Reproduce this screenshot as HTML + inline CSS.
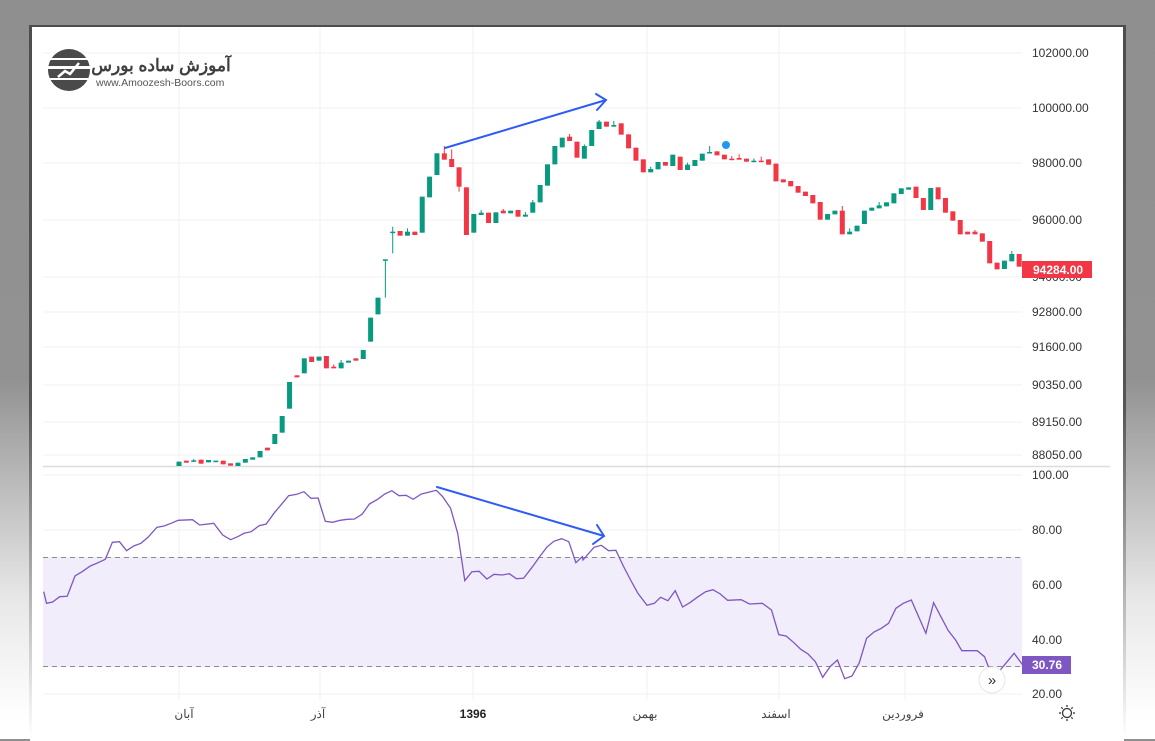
<!DOCTYPE html>
<html><head><meta charset="utf-8">
<style>
html,body{margin:0;padding:0;}
body{width:1155px;height:739px;overflow:hidden;position:relative;background:linear-gradient(to bottom,#8f8f8f 0,#929292 380px,#e8e8e8 600px,#fff 720px);font-family:"Liberation Sans","Noto Sans CJK SC",sans-serif;}
#panel{position:absolute;left:30px;top:25px;width:1094px;height:714px;background:#fff;border-top:2px solid #4d4d4d;}
#bl{position:absolute;left:29px;top:25px;width:3px;height:714px;background:linear-gradient(to bottom,#4d4d4d 0,#555 380px,#ddd 650px,#fff 714px);}
#br{position:absolute;left:1123px;top:25px;width:3px;height:714px;background:linear-gradient(to bottom,#4d4d4d 0,#555 380px,#ddd 650px,#fff 714px);}
svg{position:absolute;left:0;top:0;}
</style></head><body>
<div id="panel"></div><div id="bl"></div><div id="br"></div>
<svg id="s" width="1155" height="739" xmlns="http://www.w3.org/2000/svg" font-family="Liberation Sans, Noto Sans CJK SC, sans-serif">
<g stroke="#f2f2f2" stroke-width="1">
<line x1="43" x2="1022" y1="53" y2="53"/><line x1="43" x2="1022" y1="108" y2="108"/><line x1="43" x2="1022" y1="163" y2="163"/><line x1="43" x2="1022" y1="220" y2="220"/><line x1="43" x2="1022" y1="277" y2="277"/><line x1="43" x2="1022" y1="312" y2="312"/><line x1="43" x2="1022" y1="347" y2="347"/><line x1="43" x2="1022" y1="385" y2="385"/><line x1="43" x2="1022" y1="422" y2="422"/><line x1="43" x2="1022" y1="455" y2="455"/>
<line x1="43" x2="1022" y1="475" y2="475"/><line x1="43" x2="1022" y1="530" y2="530"/><line x1="43" x2="1022" y1="585" y2="585"/><line x1="43" x2="1022" y1="640" y2="640"/><line x1="43" x2="1022" y1="694" y2="694"/>
<line x1="179" x2="179" y1="27" y2="700"/><line x1="320" x2="320" y1="27" y2="700"/><line x1="473" x2="473" y1="27" y2="700"/><line x1="647" x2="647" y1="27" y2="700"/><line x1="779" x2="779" y1="27" y2="700"/><line x1="905" x2="905" y1="27" y2="700"/>
</g>
<line x1="43" x2="1110" y1="466.5" y2="466.5" stroke="#dcdcdc" stroke-width="1.5"/>
<rect x="43" y="557" width="979" height="110" fill="#f1edfa"/>
<line x1="43" x2="1022" y1="557.5" y2="557.5" stroke="#8a8a8a" stroke-dasharray="5,4"/>
<line x1="43" x2="1022" y1="666.5" y2="666.5" stroke="#8a8a8a" stroke-dasharray="5,4"/>
<g id="candles"></g>
<polyline id="rsi" fill="none" stroke="#7e57c2" stroke-width="1.3" points=""/>
<circle cx="726" cy="145" r="4" fill="#2196f3"/>
<g stroke="#2f5cf5" stroke-width="2" fill="none" stroke-linecap="round">
<line x1="445" y1="148" x2="606" y2="100"/><polyline points="596,94 606,100 597,110"/>
<line x1="437" y1="487" x2="604" y2="536"/><polyline points="597,525 604,536 593,544"/>
</g>
<g font-size="12" fill="#333">
<text x="1032" y="57">102000.00</text><text x="1032" y="112">100000.00</text><text x="1032" y="167">98000.00</text><text x="1032" y="224">96000.00</text><text x="1032" y="281">94000.00</text><text x="1032" y="316">92800.00</text><text x="1032" y="351">91600.00</text><text x="1032" y="389">90350.00</text><text x="1032" y="426">89150.00</text><text x="1032" y="459">88050.00</text>
<text x="1032" y="479">100.00</text><text x="1032" y="534">80.00</text><text x="1032" y="589">60.00</text><text x="1032" y="644">40.00</text><text x="1032" y="698">20.00</text>
</g>
<rect x="1022" y="261" width="70" height="17" fill="#f23645"/>
<text x="1033" y="274" font-size="12" font-weight="bold" fill="#fff">94284.00</text>
<rect x="1022" y="656" width="49" height="18" fill="#7e57c2"/>
<text x="1032" y="669" font-size="12" font-weight="bold" fill="#fff">30.76</text>
<circle cx="992" cy="680" r="13" fill="#fff" stroke="#e6e6e6"/>
<text x="992" y="685" font-size="15" text-anchor="middle" fill="#333">»</text>
<g font-size="12" fill="#444" text-anchor="middle">
<text x="184" y="718">آبان</text><text x="318" y="718">آذر</text><text x="473" y="718" font-weight="bold" fill="#222">1396</text><text x="645" y="718">بهمن</text><text x="776" y="718">اسفند</text><text x="903" y="718">فروردین</text>
</g>
<g transform="translate(1067,713)" stroke="#333" stroke-width="1.3" fill="none">
<circle r="4.5"/><line x1="0" y1="-6" x2="0" y2="-8"/><line x1="0" y1="6" x2="0" y2="8"/><line x1="-6" y1="0" x2="-8" y2="0"/><line x1="6" y1="0" x2="8" y2="0"/><line x1="4.3" y1="4.3" x2="5.7" y2="5.7"/><line x1="-4.3" y1="-4.3" x2="-5.7" y2="-5.7"/><line x1="4.3" y1="-4.3" x2="5.7" y2="-5.7"/><line x1="-4.3" y1="4.3" x2="-5.7" y2="5.7"/>
</g>
<g>
<circle cx="69" cy="70" r="21" fill="#4a4a4a"/>
<rect x="48" y="66" width="42" height="3" fill="#fff"/>
<rect x="49" y="58" width="40" height="2" fill="#fff"/>
<rect x="49" y="78" width="40" height="2" fill="#fff"/>
<polyline points="58,77 65,71 70,74 79,63" stroke="#fff" stroke-width="2.5" fill="none"/>
<text x="161" y="71" font-size="17" font-weight="bold" fill="#3f3f3f" text-anchor="middle">آموزش ساده بورس</text>
<text x="96" y="86" font-size="10.5" fill="#555">www.Amoozesh-Boors.com</text>
</g>
</svg>
<script>
var C=[
['G',1025,1038],['R',1022,1028],['G',1021,1025,1017],['R',1019,1031],['G',1020,1027],['G',1022,1025],['R',1022,1033],['R',1030,1037],['G',1028,1038],['G',1017,1028],
['G',1012,1019],['G',993,1012],['R',983,991],['G',942,972],['G',888,938],['G',786,866],['R',766,772],['G',715,760],['R',710,726],['G',710,722],
['R',708,745],['R',740,745,733],['G',728,745,720],['G',722,728],['R',715,722],['G',690,717],['G',593,665],['G',533,583],['G',418,422,418,533],['G',335,338,320,400],
['R',333,347],['G',335,347,325],['R',335,345],['G',230,338],['G',170,232],['G',100,165],['R',100,119,78],['R',117,141,88,141],['R',142,200,142,215],['R',202,345],
['G',282,338],['G',278,285,270],['R',278,309],['G',277,309],['R',272,280,267],['G',272,280],['R',270,290],['G',284,290,276],['G',247,278,240],['G',195,247],
['G',133,197],['G',78,133],['G',53,82],['R',50,63,42],['R',65,113],['G',78,116,73],['G',30,78],['G',5,27,0],['R',5,20],['G',15,20,3],
['R',10,44],['R',43,85],['R',83,122],
['R',118,157],['G',147,157,140],['G',126,148],['R',126,137],['G',104,138],['R',110,150],['G',134,150,128],['G',120,138],['G',101,122],['G',96,100,78],
['R',94,106],['R',104,118],['R',116,119,108],['R',114,119,103],['R',116,125],['G',122,125,115],['R',122,125,110],['R',118,134],['R',131,184],['R',178,187],
['R',183,199],['R',198,218],['R',215,228],['R',225,250],['R',246,299],['G',282,299],['G',272,283],['R',272,343,258],['G',335,343,325],['G',317,334],
['G',272,312],['G',263,272],['G',256,265,246],['G',247,259],['G',220,250],['G',205,222],['G',202,209],['R',200,234],['R',234,270],['G',204,270],
['R',202,238],['R',234,278],['R',274,302],['R',300,343],['R',335,343],['R',335,343,330],['R',340,365],['R',363,430],['R',428,448],['G',422,447],
['G',402,424,393],['R',402,440]];
var g=document.getElementById('candles'),h='';
C.forEach(function(c,i){var x=179+i*7.37,col=c[0]=='G'?'#089981':'#f23645';
var t=120+c[1]/3,b=120+c[2]/3;if(b-t<1.5)b=t+1.5;
var wt=c.length>3?120+c[3]/3:t,wb=c.length>4?120+c[4]/3:b;
h+='<line x1="'+x+'" x2="'+x+'" y1="'+wt+'" y2="'+wb+'" stroke="'+col+'" stroke-width="1"/>';
h+='<rect x="'+(x-2.5)+'" y="'+t+'" width="5" height="'+(b-t)+'" fill="'+col+'"/>';});
g.innerHTML=h;
var A=[[37,395],[45,430],[62,426],[82,410],[103,409],[125,348],[145,335],[168,318],[190,308],[210,298],[230,247],[250,245],[270,272],[290,258],[310,250],[330,232],[355,202],[375,198],[395,190],[415,181],[455,179],[475,195],[515,190],[540,225],[562,239],[582,230],[600,220],[620,215],[642,197],[662,192],[685,158],[705,133],[725,107],[748,103],[768,95],[788,115],[808,114],[828,184],[848,187],[870,181],[890,178],[910,177],[932,162],[952,132],[975,118],[995,102],[1015,92],[1035,107],[1055,106],[1075,118],[1098,102],[1118,97],[1140,91],[1158,110],[1180,145],[1200,220],[1220,362],[1240,335],[1260,334],[1282,357],[1302,343],[1325,345],[1345,341],[1365,356],[1385,355],[1410,320],[1430,290],[1450,262],[1470,244],[1492,236],[1512,245],[1532,308],[1550,290]];
var B=[[0,300],[30,262],[50,256],[70,272],[90,271],[110,318],[130,360],[150,400],[175,436],[195,430],[212,412],[232,422],[252,392],[272,441],[292,428],[312,412],[335,395],[355,389],[375,402],[395,421],[432,419],[455,432],[490,430],[515,450],[535,524],[555,528],[575,547],[595,568],[615,582],[635,605],[655,652],[675,620],[695,600],[715,656],[735,648],[755,608],[775,535],[795,516],[815,505],[835,490],[855,445],[875,430],[897,420],[937,520],[958,428],[978,470],[998,512],[1018,540],[1035,572],[1077,572],[1097,590],[1118,650],[1140,630],[1178,580],[1205,620]];
var p=[];A.forEach(function(a){p.push((30.5+a[0]*0.356).toFixed(1)+','+(460+a[1]/3).toFixed(1));});
B.forEach(function(a){p.push((583+a[0]*0.366).toFixed(1)+','+(460+a[1]/3).toFixed(1));});
document.getElementById('rsi').setAttribute('points',p.join(' '));
</script>
</body></html>
